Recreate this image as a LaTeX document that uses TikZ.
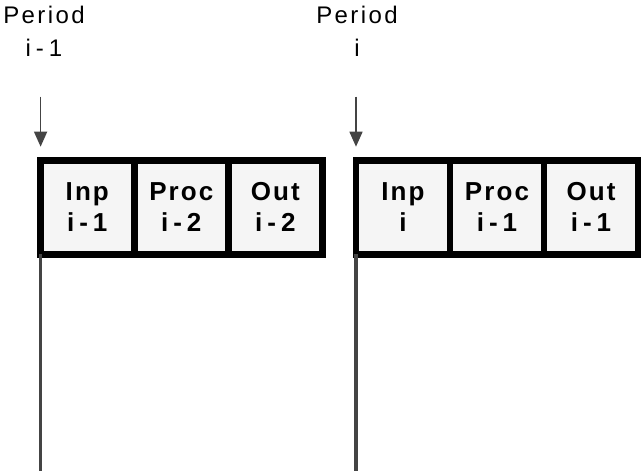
\documentclass[tikz,border=0pt]{standalone}
\usepackage{fontspec}
\usepackage{tikz}
\usetikzlibrary{positioning, arrows.meta}
\setmainfont{Liberation Sans}
\newfontfamily\periodfont[LetterSpace=10]{Liberation Sans}
\newfontfamily\stagefont[LetterSpace=8]{Liberation Sans Bold}
\newcommand\narrowgap{\spaceskip 5pt\relax}
\definecolor{railgray}{HTML}{444444}
\definecolor{stagefill}{HTML}{F5F5F5}
\tikzset{
  stage/.style={draw=black, line width=6.7pt, fill=stagefill, outer sep=0pt,
    inner sep=0pt, minimum width=94pt, minimum height=94pt, align=center,
    font=\stagefont\fontsize{26}{31}\selectfont\narrowgap},
  period/.style={align=center, inner sep=0pt,
    font=\periodfont\fontsize{24}{33}\selectfont\narrowgap},
  tick/.style={draw=railgray, line width=1.5pt,
    -{Triangle[width=13pt, length=15pt]}},
  rail/.style={draw=railgray, line width=3.5pt}
}

\begin{document}
\begin{tikzpicture}[x=1pt, y=-1pt]
  \useasboundingbox (0,0) rectangle (641,476);

  \node[stage] (inA) at (87.3,207.3) {Inp\\i - 1};
  \node[stage, right=0pt of inA] (procA) {Proc\\i - 2};
  \node[stage, right=0pt of procA] (outA) {Out\\i - 2};

  \node[stage] (inB) at (403,207.3) {Inp\\i};
  \node[stage, right=0pt of inB] (procB) {Proc\\i - 1};
  \node[stage, right=0pt of procB] (outB) {Out\\i - 1};

  \node[period] (perA) at (44,31) {Period\\i - 1};
  \node[period] (perB) at (357,31) {Period\\i};

  \coordinate (tickA) at (40.6,96.7);
  \coordinate (tickB) at (356,96.7);
  \draw[tick] (tickA) -- ++(0,50);
  \draw[tick] (tickB) -- ++(0,50);

  \draw[rail] (inA.south west) -- ++(0,216.7);
  \draw[rail] (inB.south west) -- ++(0,216.7);
\end{tikzpicture}
\end{document}
